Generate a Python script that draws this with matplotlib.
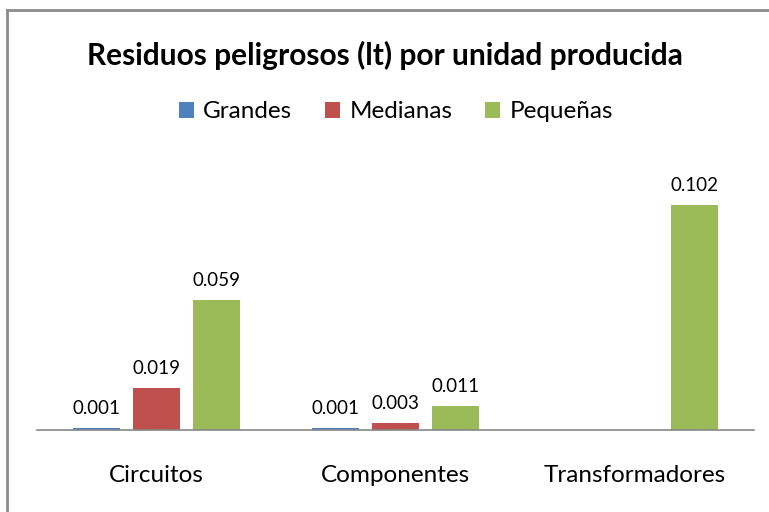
import matplotlib.pyplot as plt
from matplotlib.patches import Patch
import numpy as np

plt.rcParams['font.family'] = ['Lato', 'DejaVu Sans']

# data
categories = ['Circuitos', 'Componentes', 'Transformadores']
series_names = ['Grandes', 'Medianas', 'Pequeñas']
grandes = [0.001, 0.001, 0.0]
medianas = [0.019, 0.003, 0.0]
pequenas = [0.059, 0.011, 0.102]
colors = ['#4F81BD', '#C0504D', '#9BBB59']

fig = plt.figure(figsize=(7.69, 5.12), dpi=100)
ax = fig.add_axes([0.0481, 0.1602, 0.9324, 0.5176])

x = np.arange(len(categories))
step = 0.251
width = 0.197
for i, (vals, name, col) in enumerate(zip([grandes, medianas, pequenas], series_names, colors)):
    bars = ax.bar(x + (i - 1) * step, vals, width, color=col, label=name)
    for b, v in zip(bars, vals):
        if v > 0:
            ax.annotate('%.3f' % v, (b.get_x() + b.get_width() / 2, v),
                        xytext=(0, 8), textcoords='offset points',
                        ha='center', va='bottom', fontsize=13.5)

ax.set_xlim(-0.5, 2.5)
ax.set_ylim(0, 0.12)
ax.set_yticks([])
ax.set_xticks(x)
ax.set_xticklabels(categories, fontsize=17.5)
ax.tick_params(axis='x', length=0, pad=25)
for s in ['top', 'right', 'left']:
    ax.spines[s].set_visible(False)
ax.spines['bottom'].set_color('#868686')
ax.spines['bottom'].set_linewidth(1.2)

fig.text(0.5, 1 - 55 / 512, 'Residuos peligrosos (lt) por unidad producida',
         ha='center', va='center', fontsize=21.5, fontweight='bold')

handles = [Patch(facecolor=c) for c in colors]
fig.legend(handles, series_names, loc='center', bbox_to_anchor=(0.515, 1 - 112 / 512),
           ncol=3, frameon=False, fontsize=17.5, handlelength=0.6, handleheight=0.6,
           handletextpad=0.4, columnspacing=1.35)

# chart border (clipped at right and bottom in the original)
fig.add_artist(plt.Line2D([7 / 769, 7 / 769], [0, 1 - 10 / 512], transform=fig.transFigure,
                          color='#8c8c8c', linewidth=2))
fig.add_artist(plt.Line2D([7 / 769, 1], [1 - 10 / 512, 1 - 10 / 512], transform=fig.transFigure,
                          color='#8c8c8c', linewidth=2))

fig.savefig('out.png', dpi=100)
